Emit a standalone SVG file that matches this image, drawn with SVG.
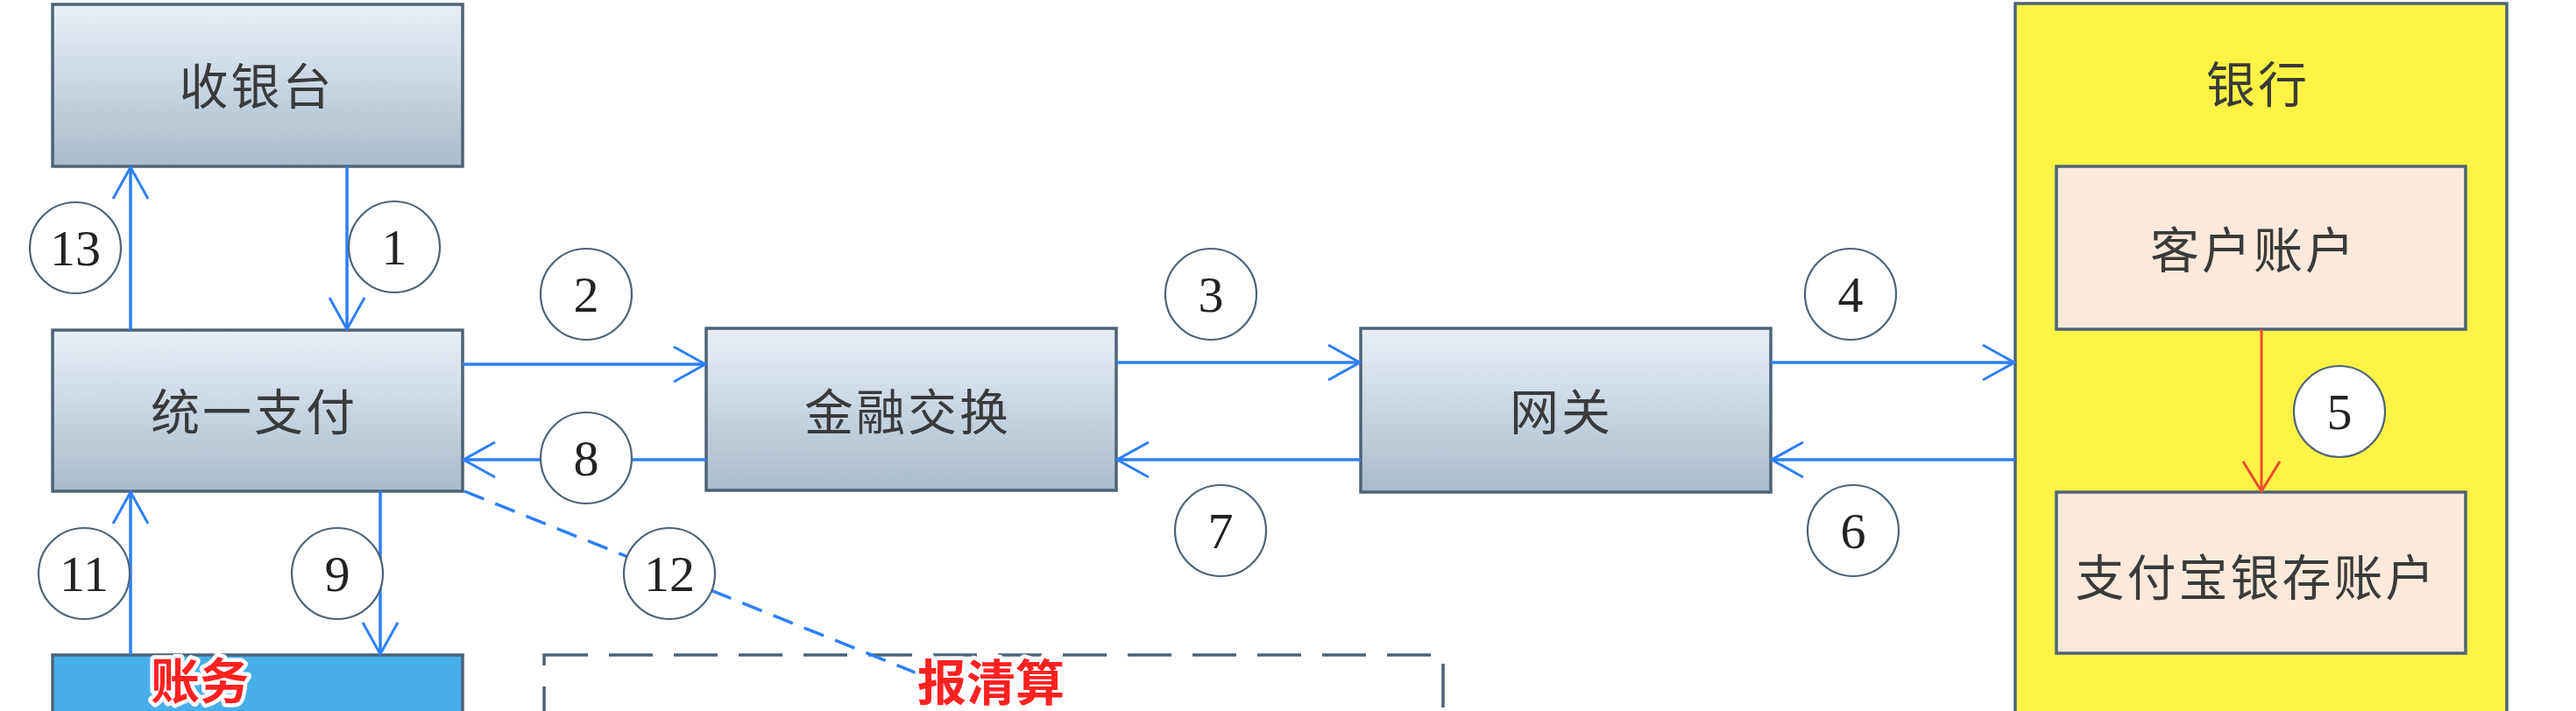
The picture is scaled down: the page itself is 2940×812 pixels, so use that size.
<svg xmlns="http://www.w3.org/2000/svg" width="2940" height="812" viewBox="0 0 2940 812">
<defs>
<linearGradient id="g" x1="0" y1="0" x2="0" y2="1">
<stop offset="0" stop-color="#eaeff6"/>
<stop offset="1" stop-color="#a8bccd"/>
</linearGradient>
<marker id="ab" markerUnits="userSpaceOnUse" markerWidth="60" markerHeight="60" viewBox="-50 -30 60 60" refX="0" refY="0" orient="auto" overflow="visible">
<path d="M-36,-20 L0,0 L-36,20" fill="none" stroke="#2d7ff9" stroke-width="3"/>
</marker>
<marker id="ar" markerUnits="userSpaceOnUse" markerWidth="60" markerHeight="60" viewBox="-50 -30 60 60" refX="0" refY="0" orient="auto" overflow="visible">
<path d="M-34,-21 L0,0 L-34,21" fill="none" stroke="#ec4a2c" stroke-width="3"/>
</marker>
<style>
.box{fill:url(#g);stroke:#4d6377;stroke-width:3.5}
.acc{fill:#fce9da;stroke:#4d6377;stroke-width:3.5}
.t{font-family:"Noto Sans CJK SC","Noto Sans CJK JP",sans-serif;font-size:56px;fill:#3a3a3a;text-anchor:middle;letter-spacing:3px}
.c{fill:#fff;stroke:#4d6377;stroke-width:2.2}
.n{font-family:"Liberation Serif","DejaVu Serif",serif;font-size:58px;fill:#222;text-anchor:middle}
.ln{stroke:#2d7ff9;stroke-width:3.5;fill:none;marker-end:url(#ab)}
.red{font-family:"Noto Sans CJK SC","Noto Sans CJK JP",sans-serif;font-size:56px;font-weight:700;fill:#ff2121;stroke:#fff;stroke-width:9;paint-order:stroke;stroke-linejoin:round;text-anchor:middle}
</style>
</defs>
<rect width="2940" height="812" fill="#fff"/>

<g id="bank">
<rect x="2300" y="4" width="561" height="830" fill="#fff445" stroke="#4d6377" stroke-width="3.5"/>
<text class="t" x="2577" y="117">银行</text>
</g>
<g id="cashier">
<rect class="box" x="60" y="5" width="468" height="185"/>
<text class="t" x="293" y="119">收银台</text>
</g>
<g id="unified-pay">
<rect class="box" x="60" y="377" width="468" height="184"/>
<text class="t" x="290" y="491">统一支付</text>
</g>
<g id="finance-exchange">
<rect class="box" x="806" y="375" width="468" height="185"/>
<text class="t" x="1036" y="491">金融交换</text>
</g>
<g id="gateway">
<rect class="box" x="1553" y="375" width="468" height="187"/>
<text class="t" x="1782" y="491">网关</text>
</g>
<g id="customer-account">
<rect class="acc" x="2347" y="190" width="467" height="186"/>
<text class="t" x="2572" y="306">客户账户</text>
</g>
<g id="alipay-account">
<rect class="acc" x="2347" y="562" width="467" height="184"/>
<text class="t" x="2575" y="680">支付宝银存账户</text>
</g>
<g id="accounting">
<rect x="60" y="748" width="468" height="90" fill="#48aeea" stroke="#4d6377" stroke-width="3.5"/>
</g>
<g id="clearing">
<rect x="621" y="748" width="1026" height="90" fill="none" stroke="#4d6377" stroke-width="3.5" stroke-dasharray="50 24"/>
</g>

<g id="connectors">
<path class="ln" d="M149,377 L149,191"/>
<path class="ln" d="M396,190 L396,376"/>
<path class="ln" d="M528,416 L805,416"/>
<path class="ln" d="M806,525 L529,525"/>
<path class="ln" d="M1274,414 L1552,414"/>
<path class="ln" d="M1553,525 L1275,525"/>
<path class="ln" d="M2021,414 L2299,414"/>
<path class="ln" d="M2300,525 L2022,525"/>
<path class="ln" d="M434,561 L434,747"/>
<path class="ln" d="M149,748 L149,562"/>
<path d="M530,561 L1052,771" fill="none" stroke="#2d7ff9" stroke-width="3.5" stroke-dasharray="24 14"/>
<path d="M2581,376 L2581,561" fill="none" stroke="#ec4a2c" stroke-width="3" marker-end="url(#ar)"/>
</g>

<g id="step-labels">
<circle class="c" cx="86" cy="283" r="52"/><text class="n" x="86" y="303">13</text>
<circle class="c" cx="450" cy="282" r="52"/><text class="n" x="450" y="302">1</text>
<circle class="c" cx="669" cy="336" r="52"/><text class="n" x="669" y="356">2</text>
<circle class="c" cx="1382" cy="336" r="52"/><text class="n" x="1382" y="356">3</text>
<circle class="c" cx="2112" cy="336" r="52"/><text class="n" x="2112" y="356">4</text>
<circle class="c" cx="2670" cy="470" r="52"/><text class="n" x="2670" y="490">5</text>
<circle class="c" cx="2115" cy="606" r="52"/><text class="n" x="2115" y="626">6</text>
<circle class="c" cx="1393" cy="606" r="52"/><text class="n" x="1393" y="626">7</text>
<circle class="c" cx="669" cy="523" r="52"/><text class="n" x="669" y="543">8</text>
<circle class="c" cx="385" cy="655" r="52"/><text class="n" x="385" y="675">9</text>
<circle class="c" cx="96" cy="655" r="52"/><text class="n" x="96" y="675">11</text>
<circle class="c" cx="764" cy="655" r="52"/><text class="n" x="764" y="675">12</text>
</g>

<g id="notes">
<text class="red" x="228" y="798">账务</text>
<text class="red" x="1131" y="800">报清算</text>
</g>
</svg>
